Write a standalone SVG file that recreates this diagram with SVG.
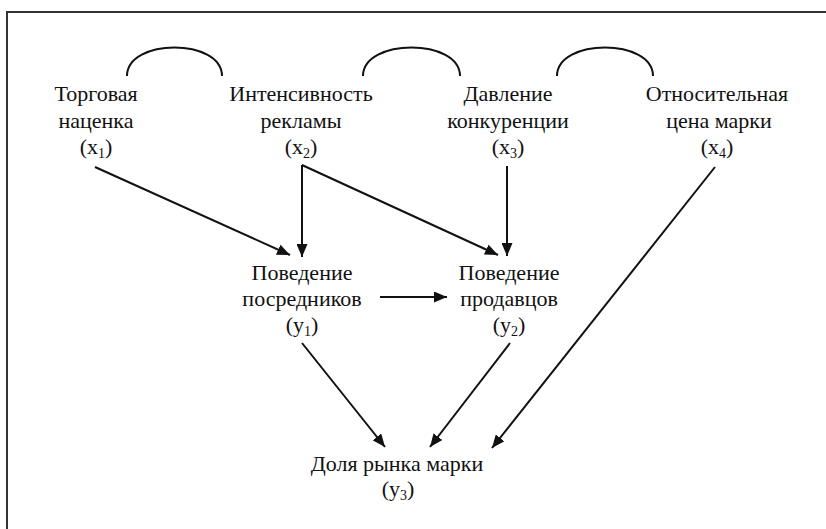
<svg xmlns="http://www.w3.org/2000/svg" width="826" height="529" viewBox="0 0 826 529">
<style>
text{font-family:"Liberation Serif","DejaVu Serif","Times New Roman",serif;font-size:22px;fill:#111;text-anchor:middle}
.sub{font-size:14px}
.c{stroke:#111;stroke-width:2;fill:none}
.a{stroke:#111;stroke-width:2;fill:none;marker-end:url(#ah)}
.frame{stroke:#333;stroke-width:2;fill:none}
</style>
<defs>
<marker id="ah" viewBox="0 0 13 11" refX="13" refY="5.5" markerWidth="13" markerHeight="11" markerUnits="userSpaceOnUse" orient="auto">
<path d="M0,0 L13,5.5 L0,11 Z" fill="#111"/>
</marker>
</defs>
<rect width="826" height="529" fill="#fff"/>
<path class="frame" d="M7,529 V12 H826"/>
<g id="x1">
<text x="96" y="101">Торговая</text>
<text x="96" y="128">наценка</text>
<text x="96" y="154">(x<tspan class="sub" dy="4">1</tspan><tspan dy="-4">)</tspan></text>
</g>
<g id="x2">
<text x="301" y="101">Интенсивность</text>
<text x="301" y="128">рекламы</text>
<text x="301" y="154">(x<tspan class="sub" dy="4">2</tspan><tspan dy="-4">)</tspan></text>
</g>
<g id="x3">
<text x="508" y="101">Давление</text>
<text x="508" y="128">конкуренции</text>
<text x="508" y="154">(x<tspan class="sub" dy="4">3</tspan><tspan dy="-4">)</tspan></text>
</g>
<g id="x4">
<text x="717" y="101">Относительная</text>
<text x="719" y="128">цена марки</text>
<text x="717" y="154">(x<tspan class="sub" dy="4">4</tspan><tspan dy="-4">)</tspan></text>
</g>
<g id="y1">
<text x="302" y="280">Поведение</text>
<text x="302" y="306">посредников</text>
<text x="302" y="332">(y<tspan class="sub" dy="4">1</tspan><tspan dy="-4">)</tspan></text>
</g>
<g id="y2">
<text x="509" y="280">Поведение</text>
<text x="509" y="306">продавцов</text>
<text x="509" y="332">(y<tspan class="sub" dy="4">2</tspan><tspan dy="-4">)</tspan></text>
</g>
<g id="y3">
<text x="397" y="471">Доля рынка марки</text>
<text x="398" y="496">(y<tspan class="sub" dy="4">3</tspan><tspan dy="-4">)</tspan></text>
</g>
<g id="connectors">
<path class="c" d="M127,76 C127,38 222,38 222,76"/>
<path class="c" d="M363,76 C363,38 460,38 460,76"/>
<path class="c" d="M557,76 C557,38 653,38 653,76"/>
<line class="a" x1="95" y1="167" x2="290" y2="255"/>
<line class="a" x1="302" y1="165" x2="302" y2="257"/>
<line class="a" x1="302" y1="165" x2="498" y2="255"/>
<line class="a" x1="507" y1="166" x2="507" y2="256"/>
<line class="a" x1="715" y1="167" x2="492" y2="448"/>
<line class="a" x1="380" y1="297" x2="447" y2="297"/>
<line class="a" x1="302" y1="343" x2="385" y2="447"/>
<line class="a" x1="510" y1="343" x2="430" y2="447"/>
</g>
</svg>
